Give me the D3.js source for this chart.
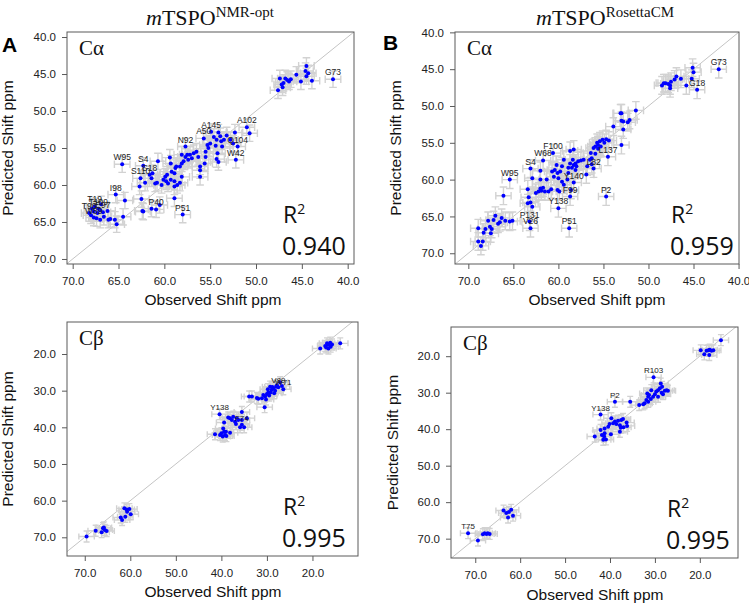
<!DOCTYPE html>
<html><head><meta charset="utf-8">
<script src="https://cdn.jsdelivr.net/npm/d3@7"></script>
<style>body{margin:0;background:#fff} svg{display:block}</style>
</head><body>
<svg id="c" width="749" height="604"></svg>
<script>
// ---------- DATA (observed ppm, predicted ppm) ----------
const caTicks = [70, 65, 60, 55, 50, 45, 40];
const cbTicks = [70, 60, 50, 40, 30, 20];

const caA = [
[44.5,43.9],[44.6,44.6],[44.3,44.9],[44.5,45.3],[43.9,45.9],[45.1,46.0],[45.6,45.1],[46.2,45.7],[46.4,46.0],[46.6,45.8],[46.8,45.6],[47.0,46.2],[47.1,46.8],[47.4,45.6],[47.2,46.4],[47.6,47.2],[41.6,45.7],
[51.0,52.2],[50.7,53.0],[52.3,52.9],[52.2,56.6],[52.0,54.8],[52.5,54.4],[53.2,53.3],[52.8,53.9],[53.5,53.9],[53.9,53.4],[54.1,52.9],[54.3,53.9],[53.8,54.1],[53.7,54.8],[54.4,54.7],[54.2,55.7],[54.3,56.5],[54.1,56.9],[54.9,52.8],[55.7,53.7],[54.6,53.5],[55.0,54.4],[55.2,55.0],[55.3,54.6],[55.5,55.5],[55.5,56.2],[55.6,57.1],[56.1,57.5],[56.1,58.0],[56.1,58.9],[56.3,56.2],[56.5,55.5],[56.8,55.7],[57.0,56.4],[57.2,55.9],[57.5,55.9],[57.4,56.6],[57.7,54.8],[57.7,56.2],[57.9,56.8],[58.1,57.1],[58.3,57.5],[58.1,55.9],[58.7,57.5],[58.8,57.7],[59.2,58.2],[59.3,57.1],[59.4,56.3],[58.9,58.4],[59.7,58.6],[59.9,58.9],[60.1,59.3],[59.8,59.5],[59.6,59.8],[59.3,59.3],[58.9,59.5],[58.6,60.0],[58.3,59.7],[58.1,58.9],[60.3,60.0],[60.7,56.8],[60.8,59.7],[61.0,59.8],[61.4,59.1],[61.3,58.4],[61.6,58.6],[62.3,57.4],[62.1,59.7],[62.6,59.1],[62.7,60.2],[62.5,61.9],[62.4,63.5],[62.3,63.6],[61.4,63.2],[60.9,63.3],[60.5,62.7],[58.9,61.8],[58.0,64.0],[58.9,60.2],
[64.6,57.2],[65.3,61.3],[64.3,62.1],[64.5,64.3],[65.2,65.3],[65.4,64.7],[65.9,64.6],[66.1,64.7],[66.2,63.5],[66.6,64.3],[67.0,63.4],[67.3,63.8],[67.6,62.9],[67.7,63.6],[67.9,63.2],[68.0,64.1],[67.7,64.4],[67.4,64.5],[68.2,63.8],[66.9,62.6],[66.7,63.7],[67.0,64.7],[67.2,63.2]
];
const caA_labels = [
["G73",41.6,45.7],["A102",51.0,52.2],["A145",54.9,52.8],["A50",55.7,53.7],["Q104",52.0,54.8],["W42",52.2,56.6],["N92",57.7,54.8],["W95",64.6,57.2],["S4",62.3,57.4],["S18",61.6,58.6],["S110",62.6,59.1],["I98",65.3,61.3],["P40",60.9,63.3],["P51",58.0,64.0],
["T19",67.6,62.9],["T109",67.2,63.2],["E97",66.7,63.7],["T96",68.2,63.8],["W89",67.7,64.4]
];

const caB = [
[42.2,45.0],[44.6,47.8],[45.1,44.8],[45.0,45.4],[45.2,46.3],[45.8,47.2],[46.4,46.3],[46.9,46.0],[47.1,46.4],[47.5,46.7],[47.6,47.2],[47.6,47.6],[47.8,47.0],[48.1,46.9],[48.3,46.9],[48.5,47.2],
[51.4,50.6],[52.1,51.9],[52.3,52.2],[53.0,51.0],[53.1,51.0],[53.0,52.0],[52.8,52.1],[52.8,53.2],[53.0,55.3],[53.9,52.8],[54.5,56.9],[54.4,54.7],[54.7,54.5],[54.9,55.0],[55.1,54.6],[55.3,55.5],[55.4,54.8],[55.6,55.3],[55.7,55.0],[55.9,55.5],[55.6,55.8],[56.1,55.7],[55.9,56.5],[56.4,56.4],[56.3,57.1],[56.5,57.3],[56.8,58.2],[56.9,59.3],[56.1,58.5],[56.3,57.9],[57.2,57.3],[57.5,57.4],[57.8,57.5],[58.1,57.8],[58.3,58.0],[58.4,57.3],[58.0,58.2],[58.1,58.7],[58.5,58.4],[58.7,57.8],[58.9,58.4],[58.9,59.1],[59.0,60.0],[58.3,55.9],[58.7,56.1],[59.4,57.3],[59.6,58.2],[59.8,58.9],[60.2,58.0],[60.1,59.1],[60.4,58.7],[60.5,59.6],[60.7,58.9],[60.0,59.8],[59.6,60.3],[59.4,60.7],[58.3,60.4],[60.1,61.4],[59.9,61.6],[60.8,61.3],[61.1,61.6],[61.5,61.6],[61.9,61.5],[61.7,61.1],[62.0,61.2],[62.2,61.6],[62.5,61.8],[62.0,60.0],[62.0,58.8],[61.3,60.0],[61.7,57.4],[60.6,56.4],[58.7,62.3],[58.6,61.4],[60.0,63.9],[58.8,66.6],[54.7,62.3],[63.1,58.5],[65.4,60.0],[66.1,62.2],[62.9,59.8],[63.4,61.3],[63.3,62.4],[63.4,63.2],[63.1,63.1],[62.9,63.7],[63.1,66.6],[63.2,65.7],
[65.1,65.6],[65.4,65.7],[65.9,65.6],[66.3,65.2],[66.5,65.8],[66.7,66.0],[67.0,64.9],[67.2,65.5],[67.4,66.7],[67.5,67.3],[67.6,66.4],[67.8,65.6],[68.1,66.7],[68.3,67.2],[68.4,68.4],[68.6,69.0],[68.9,66.6],[68.9,68.4]
];
const caB_labels = [
["G73",42.2,45.0],["G18",44.6,47.8],["F100",60.6,56.4],["W68",61.7,57.4],["S4",63.1,58.5],["W95",65.4,60.0],["L137",54.5,56.9],["L82",56.1,58.5],["Y140",58.3,60.4],["F99",58.7,62.3],["Y138",60.0,63.9],["P2",54.7,62.3],["P131",63.2,65.7],["V26",63.1,66.6],["P51",58.8,66.6]
];

const cbA = [
[18.3,18.5],[17.2,17.8],[16.8,17.1],[16.5,17.5],[16.1,16.9],[16.0,18.0],[16.5,18.5],[13.9,17.1],[15.7,17.4],[17.0,18.2],
[27.1,27.7],[27.8,28.5],[26.7,28.7],[28.6,29.4],[29.0,29.8],[28.2,30.0],[27.5,29.1],[29.3,28.9],[26.4,29.6],[29.7,30.5],[30.0,30.9],[30.4,31.6],[30.8,31.2],[31.1,32.1],[30.2,32.4],[31.9,32.2],[32.2,32.0],[33.3,31.6],[33.9,31.6],[30.5,34.5],[29.2,30.5],[28.4,30.7],[29.5,31.3],[28.8,29.0],[29.8,29.6],[28.0,28.9],
[40.4,36.4],[35.5,35.8],[37.4,37.1],[38.1,37.5],[36.6,37.5],[36.3,38.0],[37.0,38.5],[37.7,38.0],[38.5,37.3],[35.5,38.0],[34.4,37.5],[35.9,40.0],[35.0,40.0],[36.8,39.1],[35.5,39.3],[39.4,38.7],[38.1,41.5],[39.6,40.3],[39.4,41.2],[40.0,41.6],[39.2,42.1],[39.7,42.5],[38.9,42.4],[40.3,42.1],[41.4,41.9],[39.0,41.2],
[61.3,62.1],[60.8,62.4],[60.2,62.3],[59.9,63.7],[61.1,64.4],[62.1,64.6],[61.8,65.3],[60.7,63.0],
[69.6,69.8],[67.6,68.2],[66.0,67.5],[65.6,68.0],[65.2,68.3],[66.3,68.6],[65.8,67.3]
];
const cbA_labels = [["Y138",40.4,36.4],["V89",27.5,29.1],["W71",26.4,29.6],["F74",35.5,39.3]];

const cbB = [
[15.3,15.6],[19.8,18.4],[19.0,19.5],[17.9,19.7],[18.1,18.4],[17.8,18.2],[17.4,18.5],[17.0,18.4],[18.5,18.5],
[30.3,25.8],[28.7,27.5],[28.4,28.4],[28.9,28.8],[29.3,29.3],[27.8,29.5],[27.4,29.3],[27.1,29.5],[28.2,30.4],[29.7,29.7],[30.0,30.4],[30.4,31.1],[30.9,31.7],[31.5,31.1],[31.9,32.0],[31.5,32.5],[32.3,32.9],[32.6,33.2],[33.5,33.4],[30.8,29.3],[31.3,30.6],[31.7,30.2],[29.3,31.1],[28.5,30.0],[35.5,32.5],[38.9,32.5],
[42.1,36.0],[39.7,37.0],[39.3,38.4],[38.9,37.9],[38.6,38.6],[38.2,37.7],[37.8,38.9],[37.5,37.5],[37.1,37.2],[37.6,39.6],[37.0,39.5],[36.3,38.2],[36.2,39.1],[40.1,38.6],[40.4,39.3],[37.8,40.7],[41.2,39.8],[42.1,40.2],[41.2,41.1],[41.3,42.0],[41.8,41.6],[40.9,42.8],[41.5,42.9],[43.4,42.0],[39.8,41.4],
[63.7,62.3],[63.1,63.0],[62.5,62.7],[62.0,62.1],[61.6,63.7],[62.7,64.2],
[71.6,68.5],[69.4,70.5],[68.3,68.8],[67.9,68.5],[67.5,68.7],[67.2,68.5],[66.8,68.7]
];
const cbB_labels = [["R103",30.3,25.8],["P2",38.9,32.5],["Y138",42.1,36.0],["T75",71.6,68.5]];

const r2Values = ["0.940", "0.959", "0.995", "0.995"];

// ---------- LAYOUT ----------
const panels = [
 {pts: caA, labs: caA_labels, box:[67,32,354,264], xd:[70.62,39.31], yd:[39.32,70.68], ticks: caTicks, ex:0.85, ey:1.1, cap:3.8, nuc:"Cα", r2: r2Values[0], yl:13, xlx:213, xly:305, labSize:8.5},
 {pts: caB, labs: caB_labels, box:[455,32,739,264], xd:[71.48,39.95], yd:[39.95,71.46], ticks: caTicks, ex:0.85, ey:1.2, cap:3.8, nuc:"Cα", r2: r2Values[1], yl:401, xlx:597, xly:305, labSize:8.5},
 {pts: cbA, labs: cbA_labels, box:[67,322,358,556], xd:[73.9,10.0], yd:[11.27,75.1], ticks: cbTicks, ex:1.7, ey:1.5, cap:3, nuc:"Cβ", r2: r2Values[2], yl:13, xlx:213, xly:597, labSize:8},
 {pts: cbB, labs: cbB_labels, box:[451,327,738,558], xd:[75.4,11.5], yd:[12.0,75.3], ticks: cbTicks, ex:1.7, ey:1.5, cap:3, nuc:"Cβ", r2: r2Values[3], yl:398, xlx:595, xly:600, labSize:8}
];

const svg = d3.select("#c");
const fmt = d3.format(".1f");
const sans = "'Liberation Sans', Arial, Helvetica, sans-serif";
const serif = "'Liberation Serif', 'Times New Roman', serif";

panels.forEach((p, i) => {
  const [x0, y0, x1, y1] = p.box;
  const x = d3.scaleLinear().domain(p.xd).range([x0, x1]);
  const y = d3.scaleLinear().domain(p.yd).range([y0, y1]);
  const g = svg.append("g");

  const cid = "clip" + i;
  svg.append("clipPath").attr("id", cid).append("rect")
    .attr("x", x0).attr("y", y0).attr("width", x1 - x0).attr("height", y1 - y0);

  // diagonal y = x
  g.append("line").attr("clip-path", `url(#${cid})`)
    .attr("x1", x(0)).attr("y1", y(0)).attr("x2", x(100)).attr("y2", y(100))
    .attr("stroke", "#c4c4c4").attr("stroke-width", 1);

  // error bars
  const eb = g.append("g").attr("stroke", "#d2d2d2").attr("stroke-width", 1.4).attr("fill", "none");
  const cap = p.cap;
  p.pts.forEach(([o, pr]) => {
    const cx = x(o), cy = y(pr);
    const ya = y(pr - p.ey), yb = y(pr + p.ey);
    const xa = x(o - p.ex), xb = x(o + p.ex);
    eb.append("path").attr("d",
      `M${cx},${ya}V${yb}M${cx-cap},${ya}H${cx+cap}M${cx-cap},${yb}H${cx+cap}` +
      `M${xa},${cy}H${xb}M${xa},${cy-cap}V${cy+cap}M${xb},${cy-cap}V${cy+cap}`);
  });

  // points
  g.append("g").selectAll("circle").data(p.pts).join("circle")
    .attr("cx", d => x(d[0])).attr("cy", d => y(d[1])).attr("r", 2)
    .attr("fill", "#0000ff");

  // labels
  g.append("g").selectAll("text").data(p.labs).join("text")
    .attr("x", d => x(d[1])).attr("y", d => y(d[2]) - 4)
    .attr("text-anchor", "middle").attr("font-family", sans)
    .attr("font-size", p.labSize).attr("fill", "#222").text(d => d[0]);

  // box
  g.append("rect").attr("x", x0).attr("y", y0).attr("width", x1 - x0).attr("height", y1 - y0)
    .attr("fill", "none").attr("stroke", "#5a5a5a").attr("stroke-width", 1);

  // axes
  const ax = g.append("g").attr("transform", `translate(0,${y1})`)
    .call(d3.axisBottom(x).tickValues(p.ticks).tickFormat(fmt).tickSize(5).tickPadding(8).tickSizeOuter(0));
  const ay = g.append("g").attr("transform", `translate(${x0},0)`)
    .call(d3.axisLeft(y).tickValues(p.ticks.filter(t => t >= Math.min(...p.yd) && t <= Math.max(...p.yd))).tickFormat(fmt).tickSize(5).tickPadding(6).tickSizeOuter(0));
  [ax, ay].forEach(a => {
    a.select(".domain").remove();
    a.selectAll("line").attr("stroke", "#5a5a5a");
    a.selectAll("text").attr("font-family", sans).attr("font-size", 11.5).attr("fill", "#222");
  });

  // axis titles
  svg.append("text").attr("x", p.xlx).attr("y", p.xly).attr("text-anchor", "middle")
    .attr("font-family", sans).attr("font-size", 15.5).attr("fill", "#111").text("Observed Shift ppm");
  svg.append("text").attr("transform", `translate(${p.yl},${(y0 + y1) / 2}) rotate(-90)`)
    .attr("text-anchor", "middle").attr("font-family", sans).attr("font-size", 15.5)
    .attr("fill", "#111").text("Predicted Shift ppm");

  // nucleus label
  svg.append("text").attr("x", x0 + 12).attr("y", y0 + 23)
    .attr("font-family", serif).attr("font-size", 21).attr("fill", "#111").text(p.nuc);

  // R^2
  const rt = svg.append("text").attr("x", x0 + 216).attr("y", y1 - 41)
    .attr("font-family", "'Open Sans', 'Noto Sans', sans-serif").attr("font-size", 23).attr("fill", "#111");
  rt.append("tspan").text("R");
  rt.append("tspan").attr("dy", -9).attr("font-size", 14).text("2");
  svg.append("text").attr("x", x0 + 215).attr("y", y1 - 9)
    .attr("font-family", "'Open Sans', 'Noto Sans', sans-serif").attr("font-size", 25).attr("fill", "#111").text(p.r2);
});

// titles
function title(cx, sup) {
  const t = svg.append("text").attr("x", cx).attr("y", 25).attr("text-anchor", "middle")
    .attr("font-family", serif).attr("font-size", 22).attr("fill", "#111");
  t.append("tspan").attr("font-style", "italic").text("m");
  t.append("tspan").text("TSPO");
  t.append("tspan").attr("dy", -8).attr("font-size", 15).text(sup);
}
title(210, "NMR-opt");
title(605, "RosettaCM");

svg.append("text").attr("x", 2).attr("y", 52).attr("font-family", sans).attr("font-weight", "bold")
  .attr("font-size", 21).attr("fill", "#000").text("A");
svg.append("text").attr("x", 383).attr("y", 50).attr("font-family", sans).attr("font-weight", "bold")
  .attr("font-size", 21).attr("fill", "#000").text("B");
</script>
</body></html>
